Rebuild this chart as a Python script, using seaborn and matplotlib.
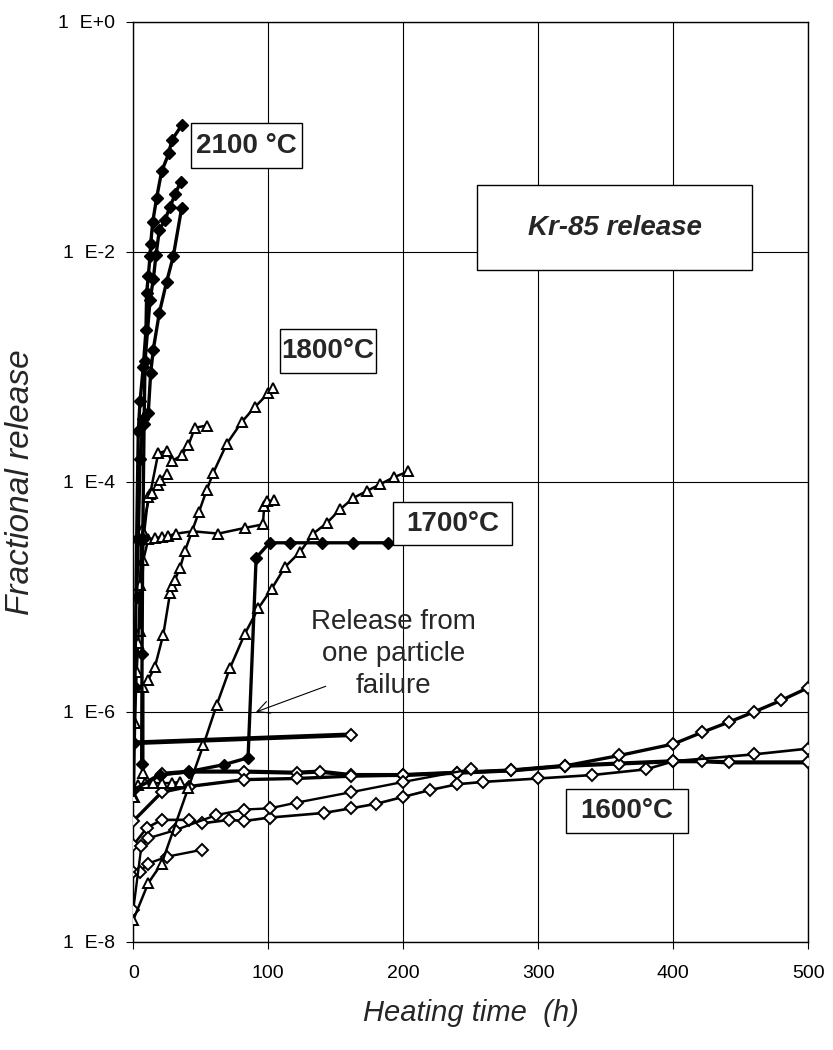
import numpy as np
import pandas as pd
import matplotlib
matplotlib.use("Agg")
import matplotlib.pyplot as plt
from matplotlib.patches import Rectangle
import seaborn as sns

# ---------------- data (log10 of fractional release) ----------------
# 2100 C (filled diamonds)
t2100_a = [0.8, 1.2, 2.5, 3.7, 5.0, 7.4, 9.4, 9.9, 11.1, 12.4, 12.9, 14.4, 17.3, 21.0, 26.4, 28.4, 35.8]
v2100_a = [-6.27, -5.78, -4.5, -3.56, -3.30, -3.0, -2.68, -2.36, -2.21, -2.04, -1.93, -1.74, -1.53, -1.30, -1.14, -1.03, -0.90]
t2100_b = [6.2, 6.5, 7.0, 8.0, 8.7, 12.4, 14.8, 16.8, 19.3, 23.5, 27.2, 30.9, 35.1]
v2100_b = [-6.45, -5.5, -4.5, -3.5, -2.95, -2.42, -2.24, -2.03, -1.81, -1.72, -1.61, -1.50, -1.39]
t2100_c = [2.5, 3.7, 5.0, 7.4, 11.1, 12.9, 14.8, 19.3, 24.7, 29.6, 35.8]
v2100_c = [-5.0, -4.50, -3.8, -3.45, -3.40, -3.05, -2.85, -2.53, -2.26, -2.04, -1.62]
# 1700 C (filled diamonds, jump from one particle failure)
t1700 = [0, 20, 41, 67, 85, 91, 101, 116, 140, 163, 189]
v1700 = [-6.68, -6.55, -6.52, -6.46, -6.40, -4.66, -4.53, -4.53, -4.53, -4.53, -4.53]
# 1800 C (open triangles)
t1800_a = [0, 11.1, 21, 40.8, 51.9, 61.8, 71.6, 82.7, 92.6, 102.5, 112.4, 123.5, 133.3, 143.2, 153.1, 163, 172.9, 183, 193, 203.5]
v1800_a = [-7.81, -7.49, -7.32, -6.66, -6.29, -5.94, -5.62, -5.32, -5.10, -4.93, -4.74, -4.61, -4.45, -4.36, -4.24, -4.14, -4.08, -4.02, -3.96, -3.91]
t1800_b = [7.4, 7.4, 11.1, 16, 22.2, 27.2, 28.4, 30.9, 34.6, 38.3, 48.7, 54.4, 59.3, 69.2, 80.3, 90, 100, 103.7]
v1800_b = [-6.53, -5.78, -5.72, -5.61, -5.33, -4.97, -4.91, -4.85, -4.75, -4.60, -4.26, -4.07, -3.92, -3.67, -3.48, -3.35, -3.23, -3.18]
t1800_c = [5.0, 7.4, 11.1, 16, 21, 26, 32, 44, 63, 83, 96, 97, 99, 104]
v1800_c = [-5.3, -4.68, -4.50, -4.49, -4.48, -4.47, -4.45, -4.43, -4.45, -4.40, -4.37, -4.21, -4.17, -4.16]
t1800_d = [0.5, 1.2, 2.5, 3.7, 6.2, 12.4, 18.5, 24.7, 28.4, 35.8, 40.8, 45.7, 54.4]
v1800_d = [-6.74, -6.1, -5.65, -5.40, -4.42, -4.11, -3.75, -3.73, -3.82, -3.77, -3.68, -3.53, -3.51]
t1800_e = [5.0, 8.0, 11.1, 13.6, 18.5, 19.8, 24.7]
v1800_e = [-4.9, -4.45, -4.13, -4.10, -4.03, -3.98, -3.93]
t1800_f = [0, 3.7, 8.7, 14.7, 21.3, 28.6, 34.6]
v1800_f = [-6.74, -6.64, -6.62, -6.62, -6.62, -6.62, -6.61]
# 1600 C (open diamonds)
t1600_a = [0, 161]
v1600_a = [-6.27, -6.20]
t1600_b = [0, 21, 41, 82, 121, 138, 161, 200, 240, 280, 320, 360, 400, 421, 441, 500]
v1600_b = [-6.68, -6.54, -6.52, -6.52, -6.53, -6.52, -6.55, -6.55, -6.53, -6.51, -6.47, -6.45, -6.43, -6.43, -6.44, -6.44]
t1600_c = [0, 21, 41, 82, 121, 161, 200, 240, 280, 320, 360, 400, 421, 441, 460, 480, 500]
v1600_c = [-6.95, -6.70, -6.65, -6.59, -6.58, -6.56, -6.55, -6.53, -6.51, -6.47, -6.38, -6.28, -6.18, -6.09, -6.00, -5.90, -5.79]
t1600_d = [0, 10, 21, 41, 51, 71, 82, 101, 141, 161, 180, 200, 220, 240, 259, 300, 340, 380, 400, 460, 500]
v1600_d = [-7.16, -7.01, -6.94, -6.94, -6.97, -6.94, -6.95, -6.92, -6.88, -6.84, -6.80, -6.74, -6.68, -6.63, -6.61, -6.58, -6.55, -6.50, -6.43, -6.37, -6.32]
t1600_e = [0, 5, 11, 25, 51]
v1600_e = [-7.39, -7.39, -7.32, -7.26, -7.20]
t1600_f = [0, 6, 11, 31, 61, 82, 101, 121, 161, 200, 250]
v1600_f = [-7.72, -7.17, -7.10, -7.03, -6.90, -6.85, -6.84, -6.79, -6.70, -6.61, -6.50]

y_ticks = [1e-8, 1e-6, 1e-4, 1e-2, 1e0]
y_tick_labels = ["1  E-8", "1  E-6", "1  E-4", "1  E-2", "1  E+0"]
x_ticks = [0, 100, 200, 300, 400, 500]

# series table: (name, t, logv, kind, linewidth)
series = [
    ("1600a", t1600_a, v1600_a, "od", 3.4),
    ("1600b", t1600_b, v1600_b, "od", 3.0),
    ("1600c", t1600_c, v1600_c, "od", 2.4),
    ("1600d", t1600_d, v1600_d, "od", 1.9),
    ("1600e", t1600_e, v1600_e, "od", 1.7),
    ("1600f", t1600_f, v1600_f, "od", 1.7),
    ("1800a", t1800_a, v1800_a, "tri", 1.8),
    ("1800b", t1800_b, v1800_b, "tri", 1.8),
    ("1800c", t1800_c, v1800_c, "tri", 1.8),
    ("1800d", t1800_d, v1800_d, "tri", 1.8),
    ("1800e", t1800_e, v1800_e, "tri", 1.8),
    ("1800f", t1800_f, v1800_f, "tri", 1.8),
    ("1700", t1700, v1700, "fd", 2.4),
    ("2100a", t2100_a, v2100_a, "fd", 2.4),
    ("2100b", t2100_b, v2100_b, "fd", 2.4),
    ("2100c", t2100_c, v2100_c, "fd", 2.4),
]

rows = []
for name, t, v, kind, lw in series:
    for i, (ti, vi) in enumerate(zip(t, v)):
        rows.append({"series": name, "order": i, "time": ti, "release": 10.0 ** vi})
df = pd.DataFrame(rows)

sns.set_theme(style="white")
plt.rcParams["font.family"] = ["Liberation Sans", "DejaVu Sans"]

fig = plt.figure(figsize=(8.33, 10.5), dpi=100)
ax = fig.add_axes([0.16, 0.1031, 0.8104, 0.876])

styles = {
    "od": dict(marker="D", markersize=6, markerfacecolor="white", markeredgecolor="black", markeredgewidth=1.4),
    "tri": dict(marker="^", markersize=7.5, markerfacecolor="white", markeredgecolor="black", markeredgewidth=1.4),
    "fd": dict(marker="D", markersize=6, markerfacecolor="black", markeredgecolor="black", markeredgewidth=1.0),
}
for name, t, v, kind, lw in series:
    sub = df[df["series"] == name]
    sns.lineplot(data=sub, x="time", y="release", ax=ax, sort=False, estimator=None,
                 color="black", linewidth=lw, legend=False, zorder=3, **styles[kind])

ax.set_yscale("log")
ax.set_xlim(0, 500)
ax.set_ylim(1e-8, 1)
ax.set_yticks(y_ticks)
ax.set_yticklabels(y_tick_labels)
ax.set_xticks(x_ticks)
ax.set_xticklabels([str(x) for x in x_ticks])
ax.minorticks_off()
ax.tick_params(axis="both", which="major", labelsize=14, length=5, width=0.8,
               color="black", labelcolor="black", direction="out")
ax.tick_params(axis="x", pad=12)
ax.tick_params(axis="y", pad=8, left=True)
ax.tick_params(axis="x", bottom=True)
ax.grid(True, which="major", color="black", linewidth=0.8)
for sp in ax.spines.values():
    sp.set_color("black")
    sp.set_linewidth(1.0)
    sp.set_visible(True)

ax.set_xlabel("Heating time  (h)", fontsize=21, style="italic", labelpad=12)
ax.set_ylabel("Fractional release", fontsize=24, style="italic", labelpad=16)

# Boxes with labels (axes fraction coordinates)
def boxed(x0, y0, x1, y1, text, size, **kw):
    ax.add_patch(Rectangle((x0, y0), x1 - x0, y1 - y0, transform=ax.transAxes,
                           facecolor="white", edgecolor="black", linewidth=1.0, zorder=5))
    ax.text((x0 + x1) / 2, (y0 + y1) / 2, text, transform=ax.transAxes, ha="center", va="center",
            fontsize=size, fontweight="bold", zorder=6, **kw)

boxed(0.0855, 0.841, 0.250, 0.890, "2100 °C", 20)
boxed(0.217, 0.618, 0.360, 0.666, "1800°C", 20)
boxed(0.385, 0.431, 0.561, 0.478, "1700°C", 20)
boxed(0.641, 0.118, 0.822, 0.166, "1600°C", 20)
boxed(0.509, 0.730, 0.917, 0.823, "Kr-85 release", 20, style="italic")

ax.text(0.385, 0.313, "Release from\none particle\nfailure", transform=ax.transAxes,
        ha="center", va="center", fontsize=20, linespacing=1.3, zorder=6)
ax.annotate("", xy=(88.9, 10 ** -6.01), xytext=(144.4, 10 ** -5.77),
            arrowprops=dict(arrowstyle="->", lw=0.8, color="black", mutation_scale=22), zorder=6)

fig.savefig("out.png", dpi=100, facecolor="white")
